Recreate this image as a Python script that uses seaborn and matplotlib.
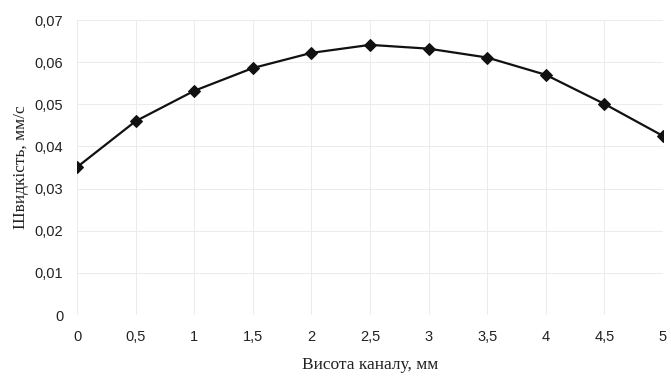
import matplotlib
matplotlib.use("Agg")
import matplotlib.pyplot as plt
import seaborn as sns
import pandas as pd
from matplotlib.ticker import FuncFormatter

# Data
heights = [0, 0.5, 1, 1.5, 2, 2.5, 3, 3.5, 4, 4.5, 5]
speeds = [0.0351, 0.0460, 0.0532, 0.0586, 0.0622, 0.0641, 0.0632, 0.0611, 0.0570, 0.0501, 0.0425]
x_ticks = [0, 0.5, 1, 1.5, 2, 2.5, 3, 3.5, 4, 4.5, 5]
y_ticks = [0, 0.01, 0.02, 0.03, 0.04, 0.05, 0.06, 0.07]

df = pd.DataFrame({"h": heights, "v": speeds})

sns.set_style("white")
plt.rcParams['font.family'] = ['Liberation Sans', 'DejaVu Sans']

fig = plt.figure(figsize=(6.71, 3.76), dpi=100)
ax = fig.add_axes([0.1148, 0.162, 0.8732, 0.7848])

sns.lineplot(data=df, x="h", y="v", ax=ax, color="#111111", linewidth=1.6,
             marker="D", markersize=6.5, markeredgecolor="#111111")

ax.set_xlim(0, 5)
ax.set_ylim(0, 0.07)
ax.set_xticks(x_ticks)
ax.set_yticks(y_ticks)

comma = FuncFormatter(lambda v, _: ("%g" % round(v, 3)).replace(".", ","))
ax.xaxis.set_major_formatter(comma)
ax.yaxis.set_major_formatter(comma)

ax.grid(True, color="#ebebeb", linewidth=0.7)
ax.set_axisbelow(True)
for s in ax.spines.values():
    s.set_visible(False)
ax.tick_params(axis="both", length=0, labelsize=10.5, colors="#222222")
ax.tick_params(axis="x", pad=11)
ax.tick_params(axis="y", pad=10)

ax.set_xlabel("Висота каналу, мм", fontsize=12.5, family=["Liberation Serif", "DejaVu Serif"],
              labelpad=9, color="#222222")
ax.set_ylabel("Швидкість, мм/с", fontsize=12.5, family=["Liberation Serif", "DejaVu Serif"],
              labelpad=4, color="#222222")

fig.savefig("out.png", dpi=100)
